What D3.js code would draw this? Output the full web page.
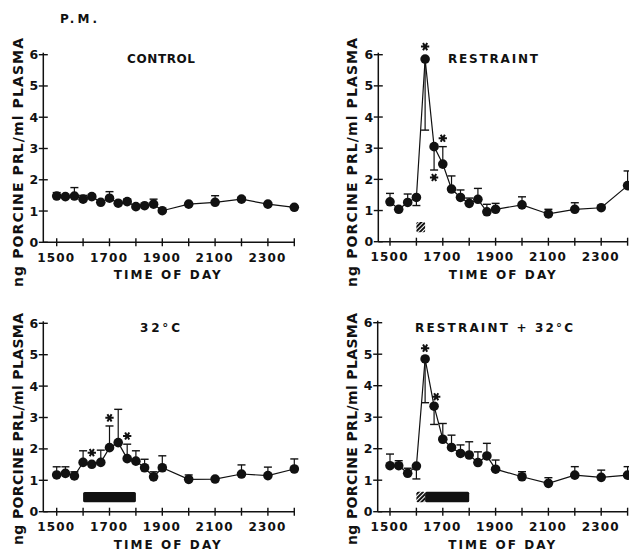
<!DOCTYPE html>
<html>
<head>
<meta charset="utf-8">
<script src="https://cdn.jsdelivr.net/npm/d3@7"></script>
<style>
  body { margin: 0; background: #fff; }
  svg text { font-family: "DejaVu Sans", sans-serif; font-weight: bold; fill: #111; }
</style>
</head>
<body>
<svg width="629" height="556"></svg>
<script>
// sample times, decimal hours (15.33 = 15:20)
const times = [15, 15.33, 15.67, 16, 16.33, 16.67, 17, 17.33, 17.67, 18, 18.33, 18.67, 19, 20, 21, 22, 23, 24]
const xTicks = [15, 16, 17, 18, 19, 20, 21, 22, 23, 24]
const xTickLabels = ["1500", "1700", "1900", "2100", "2300"]
const yTicks = [0, 1, 2, 3, 4, 5, 6]

const titles = ["CONTROL", "RESTRAINT", "32°C", "RESTRAINT + 32°C"]

// means and the end of the error bar (null = no visible bar)
const controlMean = [1.48, 1.46, 1.48, 1.38, 1.46, 1.28, 1.41, 1.25, 1.30, 1.14, 1.17, 1.22, 1.01, 1.22, 1.28, 1.38, 1.22, 1.12]
const controlErr  = [1.59, null, 1.75, 1.50, 1.52, null, 1.62, null, 1.38, null, null, 1.38, null, null, 1.49, 1.44, null, null]

const restraintMean = [1.28, 1.04, 1.26, 1.42, 5.86, 3.05, 2.49, 1.69, 1.42, 1.23, 1.36, 0.96, 1.04, 1.18, 0.89, 1.04, 1.09, 1.80]
const restraintErr  = [1.55, null, 1.53, 1.16, 3.58, 2.30, 3.05, 2.11, 1.66, 1.40, 1.71, 1.20, 1.23, 1.44, 1.04, 1.25, 1.15, 2.27]

const heatMean = [1.17, 1.22, 1.14, 1.57, 1.51, 1.57, 2.04, 2.20, 1.69, 1.61, 1.40, 1.11, 1.40, 1.03, 1.04, 1.20, 1.15, 1.36]
const heatErr  = [1.43, 1.43, 1.27, 1.94, null, 1.96, 2.73, 3.26, 2.15, 1.94, 1.67, 1.27, 1.78, 1.17, null, 1.49, 1.42, 1.68]

const comboMean = [1.46, 1.46, 1.22, 1.45, 4.85, 3.35, 2.30, 2.04, 1.85, 1.80, 1.56, 1.77, 1.35, 1.11, 0.90, 1.16, 1.09, 1.16]
const comboErr  = [1.83, 1.62, 1.38, 1.04, 3.46, 2.77, 2.80, 2.43, 2.12, 2.22, 1.90, 2.17, 1.64, 1.27, 1.08, 1.43, 1.32, 1.43]

// significance marks [time, value]
const controlStars = []
const restraintStars = [[16.33, 6.26], [16.67, 2.06], [17.0, 3.32]]
const heatStars = [[16.33, 1.88], [17.0, 2.99], [17.67, 2.41]]
const comboStars = [[16.33, 5.19], [16.75, 3.65]]

// treatment periods [start, end, kind]
const controlTreat = []
const restraintTreat = [[16, 16.33, "hatch"]]
const heatTreat = [[16, 18, "solid"]]
const comboTreat = [[16, 16.33, "hatch"], [16.33, 18, "solid"]]

const panels = [
    { mean: controlMean, err: controlErr, stars: controlStars, treat: controlTreat, axisX: 43.3, x15: 56.7, y0: 242.3, y6: 54.7, tx: 161, ty: 63, tw: 68, lx: 18, lb: 287, ll: 249 },
    { mean: restraintMean, err: restraintErr, stars: restraintStars, treat: restraintTreat, axisX: 378.3, x15: 390, y0: 241.7, y6: 54.7, tx: 493, ty: 63, tw: 90, lx: 352, lb: 287, ll: 249 },
    { mean: heatMean, err: heatErr, stars: heatStars, treat: heatTreat, axisX: 43.3, x15: 56.7, y0: 511.7, y6: 323.3, tx: 160, ty: 332, tw: 40, lx: 18, lb: 545, ll: 232 },
    { mean: comboMean, err: comboErr, stars: comboStars, treat: comboTreat, axisX: 377.7, x15: 390, y0: 511.7, y6: 322.7, tx: 494, ty: 332, tw: 158, lx: 352, lb: 545, ll: 232 }
]

const svg = d3.select("svg")

// hatch pattern for the short restraint period
const pat = svg.append("defs").append("pattern")
    .attr("id", "hatch")
    .attr("patternUnits", "userSpaceOnUse")
    .attr("width", 3).attr("height", 3)
    .attr("patternTransform", "rotate(45)")
pat.append("rect").attr("width", 3).attr("height", 3).attr("fill", "#111")
pat.append("rect").attr("width", 1).attr("height", 3).attr("fill", "#fff")

svg.append("text")
    .attr("x", 60).attr("y", 23)
    .attr("font-size", 12)
    .attr("textLength", 37)
    .text("P.M.")

panels.forEach((p, i) => draw(p, titles[i]))

function draw(p, title) {
    const x = d3.scaleLinear().domain([15, 24]).range([p.x15, p.x15 + 237.6])
    const y = d3.scaleLinear().domain([0, 6]).range([p.y0, p.y6])
    const g = svg.append("g")

    // axes
    g.append("line")
        .attr("x1", p.axisX).attr("x2", p.axisX)
        .attr("y1", y(0)).attr("y2", y(6) - 2)
        .attr("stroke", "#111").attr("stroke-width", 1.5)
    g.append("line")
        .attr("x1", p.axisX).attr("x2", x(24))
        .attr("y1", y(0)).attr("y2", y(0))
        .attr("stroke", "#111").attr("stroke-width", 1.5)

    g.selectAll("line.ytick").data(yTicks).enter().append("line")
        .attr("class", "ytick")
        .attr("x1", p.axisX - 4.5).attr("x2", p.axisX + 4.5)
        .attr("y1", d => y(d)).attr("y2", d => y(d))
        .attr("stroke", "#111").attr("stroke-width", 1.4)
    g.selectAll("text.ylab").data(yTicks).enter().append("text")
        .attr("class", "ylab")
        .attr("x", p.axisX - 9.5).attr("y", d => y(d) + 4.5)
        .attr("text-anchor", "middle")
        .attr("font-size", 12.5)
        .text(d => d)

    g.selectAll("line.xtick").data(xTicks).enter().append("line")
        .attr("class", "xtick")
        .attr("x1", d => x(d)).attr("x2", d => x(d))
        .attr("y1", y(0) - 4).attr("y2", y(0) + 4)
        .attr("stroke", "#111").attr("stroke-width", 1.4)
    g.selectAll("text.xlab").data(xTickLabels).enter().append("text")
        .attr("class", "xlab")
        .attr("x", d => x(+d / 100) - 1)
        .attr("y", y(0) + 19.5)
        .attr("text-anchor", "middle")
        .attr("font-size", 12)
        .attr("textLength", 37)
        .text(d => d)

    g.append("text")
        .attr("x", p.axisX + 124).attr("y", y(0) + 37)
        .attr("text-anchor", "middle")
        .attr("font-size", 12)
        .attr("textLength", 107)
        .text("TIME OF DAY")

    g.append("text")
        .attr("transform", `translate(${p.lx + 5},${p.lb}) rotate(-90)`)
        .attr("text-anchor", "start")
        .attr("font-size", 14)
        .attr("textLength", p.ll)
        .text("ng PORCINE PRL/ml PLASMA")

    g.append("text")
        .attr("x", p.tx).attr("y", p.ty)
        .attr("text-anchor", "middle")
        .attr("font-size", 12)
        .attr("textLength", p.tw)
        .text(title)

    // treatment bars
    g.selectAll("rect.treat").data(p.treat).enter().append("rect")
        .attr("class", "treat")
        .attr("x", d => x(d[0]))
        .attr("width", d => x(d[1]) - x(d[0]))
        .attr("y", y(0.63)).attr("height", y(0.3) - y(0.63))
        .attr("rx", 1.5)
        .attr("fill", d => d[2] === "hatch" ? "url(#hatch)" : "#111")

    const pts = times.map((t, i) => ({ t, v: p.mean[i], e: p.err[i] }))

    // error bars
    const eb = g.selectAll("g.err").data(pts.filter(d => d.e !== null)).enter().append("g")
        .attr("class", "err")
    eb.append("line")
        .attr("x1", d => x(d.t)).attr("x2", d => x(d.t))
        .attr("y1", d => y(d.v)).attr("y2", d => y(d.e))
        .attr("stroke", "#111").attr("stroke-width", 1.2)
    eb.append("line")
        .attr("x1", d => x(d.t) - 4).attr("x2", d => x(d.t) + 4)
        .attr("y1", d => y(d.e)).attr("y2", d => y(d.e))
        .attr("stroke", "#111").attr("stroke-width", 1.4)

    const line = d3.line().x(d => x(d.t)).y(d => y(d.v))
    g.append("path")
        .attr("d", line(pts))
        .attr("fill", "none")
        .attr("stroke", "#111").attr("stroke-width", 1.2)

    g.selectAll("circle").data(pts).enter().append("circle")
        .attr("cx", d => x(d.t)).attr("cy", d => y(d.v))
        .attr("r", 4.8)
        .attr("fill", "#111")

    const star = d3.symbol().type(d3.symbolAsterisk).size(48)
    g.selectAll("path.star").data(p.stars).enter().append("path")
        .attr("class", "star")
        .attr("d", star)
        .attr("transform", d => `translate(${x(d[0])},${y(d[1])}) rotate(90)`)
        .attr("fill", "none")
        .attr("stroke", "#111").attr("stroke-width", 2)
}
</script>
</body>
</html>
